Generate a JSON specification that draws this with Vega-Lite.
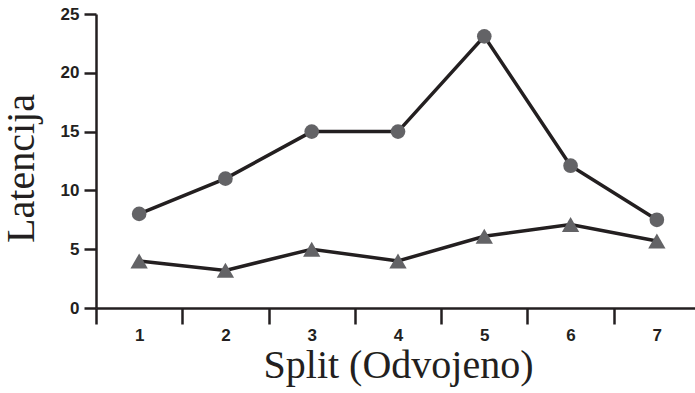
{
  "$schema": "https://vega.github.io/schema/vega-lite/v6.json",
  "autosize": "none",
  "width": 604,
  "height": 294,
  "padding": {"left": 96, "top": 14, "right": 0, "bottom": 85},
  "background": "white",
  "config": {"view": {"stroke": null}},
  "data": {"values": [
    {"split": "1", "series": "A", "lat": 8},
    {"split": "2", "series": "A", "lat": 11},
    {"split": "3", "series": "A", "lat": 15},
    {"split": "4", "series": "A", "lat": 15},
    {"split": "5", "series": "A", "lat": 23.1},
    {"split": "6", "series": "A", "lat": 12.1},
    {"split": "7", "series": "A", "lat": 7.5},
    {"split": "1", "series": "B", "lat": 4},
    {"split": "2", "series": "B", "lat": 3.2},
    {"split": "3", "series": "B", "lat": 5},
    {"split": "4", "series": "B", "lat": 4},
    {"split": "5", "series": "B", "lat": 6.1},
    {"split": "6", "series": "B", "lat": 7.1},
    {"split": "7", "series": "B", "lat": 5.7}
  ]},
  "encoding": {
    "x": {
      "field": "split", "type": "ordinal",
      "scale": {"type": "band", "paddingInner": 0, "paddingOuter": 0},
      "axis": {
        "title": "Split (Odvojeno)", "labelAngle": 0, "tickBand": "extent",
        "domainColor": "#231f20", "domainWidth": 2.5, "tickColor": "#231f20", "tickWidth": 2.5, "tickSize": 16,
        "labelFont": "Liberation Sans", "labelFontWeight": "bold", "labelFontSize": 17, "labelColor": "#231f20", "labelPadding": 3,
        "titleFont": "Liberation Serif", "titleFontWeight": "normal", "titleFontSize": 40, "titleColor": "#231f20", "titlePadding": 2
      }
    },
    "y": {
      "field": "lat", "type": "quantitative",
      "scale": {"domain": [0, 25], "nice": false},
      "axis": {
        "title": "Latencija", "values": [0, 5, 10, 15, 20, 25], "grid": false,
        "domainColor": "#231f20", "domainWidth": 2.5, "tickColor": "#231f20", "tickWidth": 2.5, "tickSize": 12,
        "labelFont": "Liberation Sans", "labelFontWeight": "bold", "labelFontSize": 17, "labelColor": "#231f20", "labelPadding": 5,
        "titleFont": "Liberation Serif", "titleFontWeight": "normal", "titleFontSize": 40, "titleColor": "#231f20", "titlePadding": 19, "titleY": 154
      }
    }
  },
  "layer": [
    {
      "mark": {"type": "line", "color": "#231f20", "strokeWidth": 3.5},
      "encoding": {"detail": {"field": "series"}}
    },
    {
      "mark": {"type": "point", "filled": true, "opacity": 1, "color": "#636366"},
      "encoding": {
        "shape": {"field": "series", "scale": {"domain": ["A", "B"], "range": ["circle", "triangle-up"]}, "legend": null},
        "size": {"field": "series", "scale": {"domain": ["A", "B"], "range": [215, 300]}, "legend": null}
      }
    }
  ]
}
